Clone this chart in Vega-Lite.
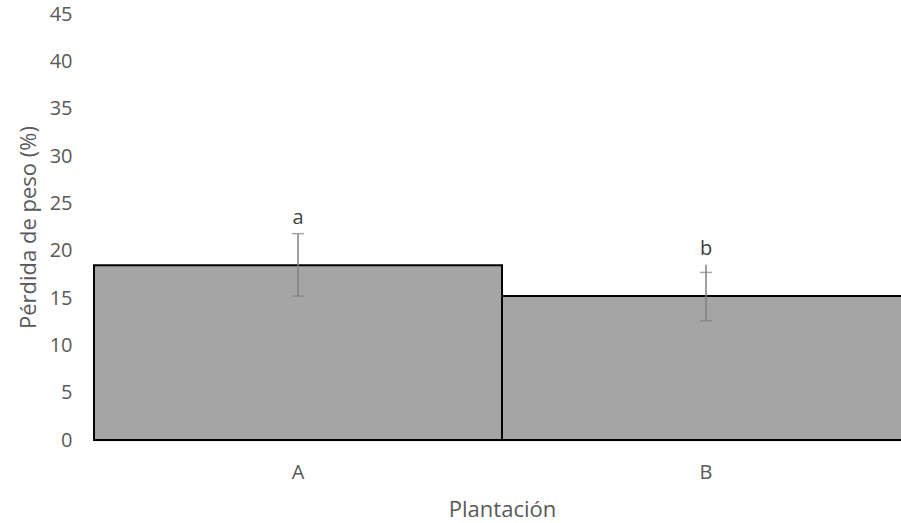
{
  "$schema": "https://vega.github.io/schema/vega-lite/v6.json",
  "width": 816,
  "height": 426,
  "autosize": {"type": "none"},
  "padding": {"left": 94, "top": 14, "right": 0, "bottom": 83},
  "background": "white",
  "config": {
    "view": {"stroke": null},
    "font": "Open Sans",
    "axis": {"labelColor": "#595959", "titleColor": "#595959", "labelFont": "Open Sans", "titleFont": "Open Sans", "titleFontWeight": "normal"}
  },
  "data": {"values": [
    {"plantacion": "A", "perdida": 18.45, "lo": 15.2, "hi": 21.8, "sup": 21.8, "letra": "a"},
    {"plantacion": "B", "perdida": 15.2, "lo": 12.6, "hi": 17.7, "sup": 18.5, "letra": "b"}
  ]},
  "encoding": {
    "x": {
      "field": "plantacion", "type": "nominal",
      "scale": {"paddingInner": 0, "paddingOuter": 0},
      "axis": {"title": "Plantación", "labelAngle": 0, "labelFontSize": 20, "titleFontSize": 22, "labelPadding": 22, "titlePadding": 17, "ticks": false, "domainColor": "#d9d9d9", "domainWidth": 2}
    }
  },
  "layer": [
    {
      "mark": {"type": "bar", "fill": "#a5a5a5", "stroke": "#000000", "strokeWidth": 2},
      "encoding": {
        "y": {
          "field": "perdida", "type": "quantitative",
          "scale": {"domain": [0, 45]},
          "axis": {"title": "Pérdida de peso (%)", "values": [0, 5, 10, 15, 20, 25, 30, 35, 40, 45], "grid": false, "domain": false, "ticks": false, "labelFontSize": 20, "titleFontSize": 22, "labelPadding": 22, "titlePadding": 9}
        }
      }
    },
    {
      "mark": {"type": "rule", "color": "#7f7f7f", "strokeWidth": 1.5},
      "encoding": {
        "y": {"field": "lo", "type": "quantitative"},
        "y2": {"field": "sup"}
      }
    },
    {
      "mark": {"type": "tick", "color": "#7f7f7f", "thickness": 1.5, "size": 12, "orient": "horizontal"},
      "encoding": {"y": {"field": "lo", "type": "quantitative"}}
    },
    {
      "mark": {"type": "tick", "color": "#7f7f7f", "thickness": 1.5, "size": 12, "orient": "horizontal"},
      "encoding": {"y": {"field": "hi", "type": "quantitative"}}
    },
    {
      "mark": {"type": "text", "color": "#404040", "fontSize": 20, "baseline": "bottom", "dy": -6},
      "encoding": {
        "y": {"field": "sup", "type": "quantitative"},
        "text": {"field": "letra"}
      }
    }
  ]
}
